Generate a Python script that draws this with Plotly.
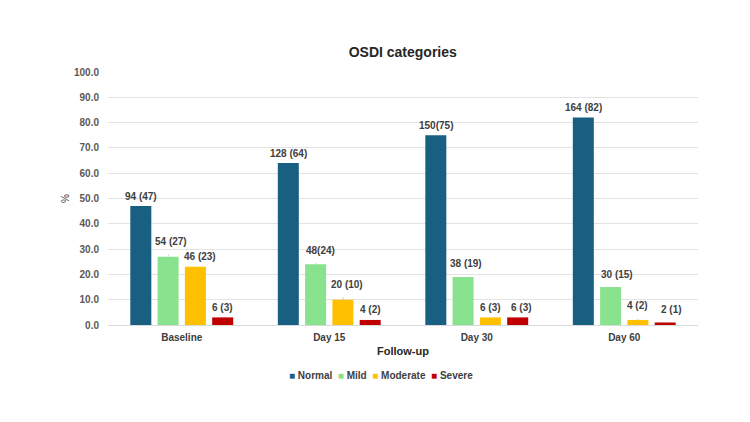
import plotly.graph_objects as go

categories = ["Baseline", "Day 15", "Day 30", "Day 60"]
series_names = ["Normal", "Mild", "Moderate", "Severe"]
normal_pct = [47, 64, 75, 82]
mild_pct = [27, 24, 19, 15]
moderate_pct = [23, 10, 3, 2]
severe_pct = [3, 2, 3, 1]
normal_lbl = ["94 (47)", "128 (64)", "150(75)", "164 (82)"]
mild_lbl = ["54 (27)", "48(24)", "38 (19)", "30 (15)"]
moderate_lbl = ["46 (23)", "20 (10)", "6 (3)", "4 (2)"]
severe_lbl = ["6 (3)", "4 (2)", "6 (3)", "2 (1)"]
y_ticks = [0, 10, 20, 30, 40, 50, 60, 70, 80, 90, 100]

values = [normal_pct, mild_pct, moderate_pct, severe_pct]
labels = [normal_lbl, mild_lbl, moderate_lbl, severe_lbl]
colors = ["#185F82", "#88E28E", "#FFC000", "#C00000"]

# label offsets (px) per series/category: (dx, dy, leader line)
label_style = [
    [(0, -10, False), (0, -10, False), (0, -10, False), (0, -10, False)],
    [(3, -15, True), (5, -14, True), (3, -13, True), (6, -13, True)],
    [(5, -10, False), (4, -15, True), (0, -10, False), (0, -14, True)],
    [(0, -10, False), (0, -10, False), (4, -10, False), (6, -13, True)],
]
pitch = 27.3

FONT = "Liberation Sans"
fig = go.Figure()
for i, name in enumerate(series_names):
    fig.add_trace(go.Bar(name=name, x=categories, y=values[i], showlegend=False,
                         marker=dict(color=colors[i], line=dict(width=0))))
    for j, c in enumerate(categories):
        dx, dy, lead = label_style[i][j]
        fig.add_annotation(
            x=c, y=values[i][j], xref="x", yref="y",
            xshift=(i - 1.5) * pitch,
            text="<b>%s</b>" % labels[i][j], showarrow=True,
            ax=dx, ay=dy, axref="pixel", ayref="pixel",
            arrowhead=0, arrowwidth=0.8,
            arrowcolor="#BFBFBF" if lead else "rgba(0,0,0,0)",
            standoff=0, startstandoff=6,
            font=dict(family=FONT, size=10, color="#404040"),
        )

legend_text = "&nbsp;&nbsp;".join(
    "<span style='color:%s'>■</span> <b>%s</b>" % (col, nm)
    for col, nm in zip(colors, series_names))
fig.add_annotation(x=0.463, y=-0.2, xref="paper", yref="paper",
                   xanchor="center", yanchor="middle", showarrow=False,
                   text=legend_text,
                   font=dict(family=FONT, size=10, color="#404040"))

fig.update_layout(
    width=750, height=422,
    margin=dict(l=108, r=52, t=72, b=97),
    paper_bgcolor="white", plot_bgcolor="white",
    barmode="group", bargap=0.26, bargroupgap=0.23,
    title=dict(text="<b>OSDI categories</b>", x=0.537, xanchor="center",
               y=0.877, yanchor="middle",
               font=dict(family=FONT, size=14, color="#262626")),
    font=dict(family=FONT, color="#595959"),
    showlegend=False,
    xaxis=dict(title=dict(text="<b>Follow-up</b>", standoff=5,
                          font=dict(family=FONT, size=11, color="#262626")),
               tickvals=categories, ticktext=["<b>%s</b>" % c for c in categories],
               tickfont=dict(family=FONT, size=10, color="#404040"),
               showgrid=False, showline=True, linecolor="#D9D9D9", ticks="",
               ticklabelstandoff=3),
    yaxis=dict(title=dict(text="%", standoff=2,
                          font=dict(family=FONT, size=10, color="#404040")),
               range=[0, 100], tickvals=y_ticks,
               ticktext=["<b>%.1f</b>" % v for v in y_ticks],
               tickfont=dict(family=FONT, size=10, color="#595959"),
               showgrid=True, gridcolor="#E3E3E3", gridwidth=1,
               zeroline=False, ticks="", ticklabelstandoff=8),
)

fig.write_html("out.html")
